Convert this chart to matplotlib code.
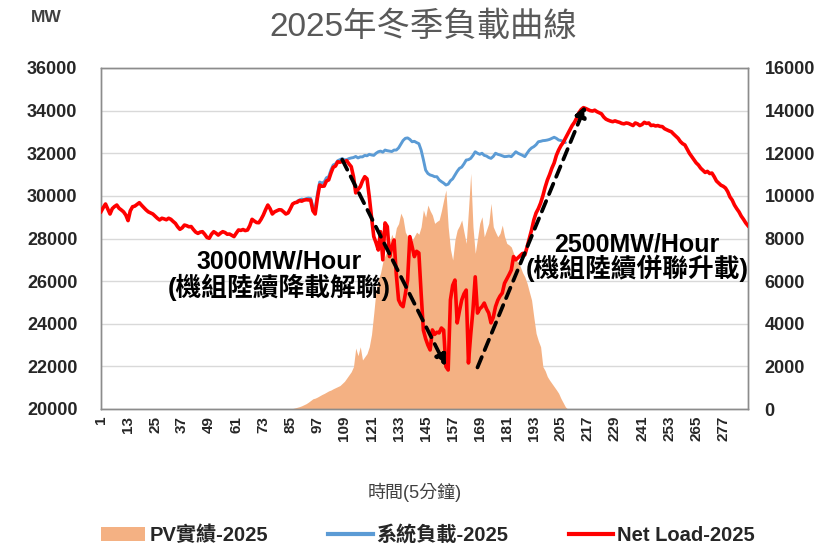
import matplotlib
matplotlib.use("Agg")
import matplotlib.pyplot as plt
import numpy as np
from matplotlib.patches import Patch
from matplotlib.lines import Line2D

plt.rcParams['font.family'] = ['Liberation Sans', 'Noto Sans CJK TC', 'DejaVu Sans']

# ---------------- data ----------------
x_idx = list(range(1, 289))
xtick_vals = list(range(1, 278, 12))

net_load = [
    29260, 29450, 29620, 29380, 29150, 29400, 29500, 29570, 29420, 29340, 29250, 29100,
    28840, 29300, 29490, 29520, 29600, 29680, 29560, 29450, 29340, 29250, 29200, 29150,
    29050, 28950, 28870, 28950, 28920, 28880, 28950, 28900, 28800, 28710, 28550, 28430,
    28500, 28630, 28600, 28550, 28560, 28420, 28300, 28240, 28300, 28320, 28200, 28050,
    28010, 28200, 28320, 28250, 28160, 28250, 28320, 28280, 28200, 28210, 28150, 28090,
    28250, 28400, 28380, 28420, 28370, 28400, 28600, 28900, 28820, 28750, 28740, 28900,
    29100, 29350, 29570, 29400, 29150, 29250, 29300, 29350, 29340, 29250, 29150, 29200,
    29400, 29620, 29680, 29700, 29780, 29750, 29800, 29820, 29810, 29800, 29300, 29150,
    29900, 30510, 30450, 30460, 30700, 30750, 31070, 31340, 31400, 31600, 31580, 31620,
    31600, 31650, 31500, 31370, 30900, 30140, 30300, 30430, 30700, 30900, 30800, 29960,
    29000, 28090, 27800, 27460, 28320, 27000, 28730, 28560, 27150, 27600, 27930, 26300,
    25120, 24900, 24800, 25400, 26050, 28090, 27620, 27150, 27400, 27320, 25440, 23700,
    23300, 23000, 22770, 23710, 23500, 23600, 23570, 23800, 23700, 21990, 21830, 25120,
    25800, 26050, 24040, 24600, 25110, 25400, 25580, 22160, 23500, 24650, 26200, 24500,
    24700, 24800, 24970, 24700, 24500, 24040, 24300, 24800, 25100, 25300, 25440, 25900,
    26100, 26300, 26520, 27150, 27000, 27100, 27200, 27300, 27230, 27600, 28000, 28400,
    28870, 29200, 29400, 29660, 30000, 30400, 30740, 31000, 31300, 31540, 31900, 32150,
    32350, 32500, 32700, 32900, 33100, 33300, 33450, 33650, 33900, 34050, 34140, 34100,
    34050, 34000, 33980, 34020, 33950, 33900, 33850, 33700, 33600, 33550, 33510, 33480,
    33520, 33480, 33450, 33400, 33380, 33420, 33400, 33350, 33300, 33420, 33380, 33300,
    33350, 33450, 33400, 33420, 33300, 33320, 33280, 33300, 33260, 33250, 33150, 33100,
    33050, 33010, 32900, 32800, 32700, 32550, 32450, 32390, 32200, 32000, 31850, 31700,
    31550, 31450, 31300, 31200, 31100, 31150, 31050, 31070, 30900, 30700, 30600, 30500,
    30450, 30370, 30200, 29950, 29800, 29570, 29400, 29250, 29050, 28900, 28730, 28600,
]

# system load visible only during daylight (elsewhere hidden under net load)
sys_start = 88
sys_load = [
    29750, 29800, 29850, 29830, 29870, 29900, 29880, 29500, 29400, 30100, 30650, 30600,
    30650, 30850, 30900, 31220, 31450, 31500, 31650, 31700, 31750, 31690, 31700, 31750, 31780,
    31800, 31850, 31780, 31830, 31830, 31900, 31880, 31950, 31920, 31900, 32000, 32070,
    32100, 32050, 32150, 32120, 32100, 32080, 32150, 32150, 32250, 32430, 32600, 32700,
    32720, 32650, 32540, 32560, 32500, 32450, 32150, 31700, 31210, 31050, 30980, 30950,
    30900, 30900, 30750, 30670, 30600, 30510, 30550, 30710, 30800, 30980, 31150, 31290,
    31350, 31500, 31680, 31700, 31760, 31900, 32070, 32000, 31950, 32000, 31900, 31870,
    31800, 31760, 31850, 32000, 31950, 31920, 31880, 31840, 31850, 31870, 31840, 31950,
    32070, 32000, 31950, 31900, 31840, 32000, 32150, 32250, 32310, 32400, 32540, 32560,
    32590, 32600, 32620, 32650, 32700, 32750, 32700, 32620, 32600, 32550, 32500,
]

pv_start = 86
pv = [
    20, 50, 80, 110, 150, 200, 250, 320, 400, 480, 510, 560,
    620, 680, 730, 790, 850, 890, 950, 1000, 1050, 1100, 1200, 1300,
    1450, 1600, 1750, 1990, 2860, 2500, 2920, 2300, 2450, 2600, 2920, 3500,
    4500, 5580, 6050, 6380, 6900, 7200, 7460, 7800, 8200, 7900, 8500, 8700,
    9190, 8950, 8300, 8090, 7790, 7900, 8100, 8300, 8200, 8550, 9340, 9000,
    9570, 9300, 9100, 8710, 8800, 8870, 9300, 9810, 10280, 8550, 7500, 6990,
    7930, 8400, 8600, 8870, 8300, 7770, 9340, 11060, 8550, 7300, 8000, 8710,
    9020, 8080, 8400, 8710, 9650, 8550, 8300, 8080, 8240, 8630, 8100, 7770,
    7700, 7600, 7300, 7000, 6900, 6680, 6400, 6200, 5900, 5500, 5110, 4300,
    3550, 3200, 2920, 1990, 1800, 1520, 1350, 1200, 1050, 900, 740, 500,
    300, 100,
]

left_ticks = [20000, 22000, 24000, 26000, 28000, 30000, 32000, 34000, 36000]
right_ticks = [0, 2000, 4000, 6000, 8000, 10000, 12000, 14000, 16000]

# ramp annotations (index, MW)
ramp_down = ((108, 31700), (154, 22000))
ramp_up = ((168, 21950), (216, 34250))

# ---------------- build full series ----------------
pv_full = np.zeros(288)
pv_full[pv_start - 1:pv_start - 1 + len(pv)] = pv
sys_full = np.full(288, np.nan)
sys_full[sys_start - 1:sys_start - 1 + len(sys_load)] = sys_load

C_PV = '#F4B183'
C_SYS = '#5B9BD5'
C_NET = '#FF0000'
TXT = '#262626'

fig = plt.figure(figsize=(8.31, 5.46), dpi=100)
ax1 = fig.add_axes([101 / 831, 1 - 409 / 546, 647 / 831, 341 / 546])
ax2 = ax1.twinx()
ax1.set_zorder(ax2.get_zorder() + 1)
ax1.patch.set_visible(False)

# PV area on right axis (behind)
ax2.fill_between(x_idx, 0, pv_full, color=C_PV, linewidth=0, zorder=2)
ax2.set_ylim(0, 16000)
ax2.set_yticks(right_ticks)
ax2.set_yticklabels([str(v) for v in right_ticks])
ax2.grid(True, color='#d9d9d9', linewidth=1, zorder=0)
ax2.set_axisbelow(True)

# lines on left axis
ax1.plot(x_idx, sys_full, color=C_SYS, linewidth=2.1, zorder=3, solid_capstyle='round')
ax1.plot(x_idx, net_load, color=C_NET, linewidth=2.6, zorder=4, solid_joinstyle='round')
ax1.set_ylim(20000, 36000)
ax1.set_yticks(left_ticks)
ax1.set_yticklabels([str(v) for v in left_ticks])
ax1.set_xlim(1, 288)
ax1.set_xticks(xtick_vals)
ax1.set_xticklabels([str(v) for v in xtick_vals], rotation=90)
ax2.set_xticks(xtick_vals)

for ax in (ax1, ax2):
    for s in ax.spines.values():
        s.set_color('#8c8c8c')
        s.set_linewidth(1)
    ax.tick_params(length=0)

ax1.tick_params(axis='y', labelsize=13, labelcolor=TXT, pad=17)
ax2.tick_params(axis='y', labelsize=13, labelcolor=TXT, pad=12)
ax1.tick_params(axis='x', labelsize=11, labelcolor=TXT, pad=5)
for lab in ax1.get_yticklabels() + ax2.get_yticklabels() + ax1.get_xticklabels():
    lab.set_fontweight('bold')

# ramp arrows
for (p0, p1) in (ramp_down, ramp_up):
    ax1.annotate('', xy=p1, xytext=p0,
                 arrowprops=dict(arrowstyle='-|>', linestyle=(0, (3, 2)), lw=2.7,
                                 color='black', mutation_scale=16, shrinkA=0, shrinkB=0),
                 zorder=6)

ax1.text(80, 26900, '3000MW/Hour', ha='center', va='center', fontsize=18,
         fontweight='bold', color='black', zorder=7)
ax1.text(80, 25720, '(機組陸續降載解聯)', ha='center', va='center', fontsize=18.5,
         fontweight='bold', color='black', zorder=7)
ax1.text(238.5, 27740, '2500MW/Hour', ha='center', va='center', fontsize=18,
         fontweight='bold', color='black', zorder=7)
ax1.text(239, 26620, '(機組陸續併聯升載)', ha='center', va='center', fontsize=18.5,
         fontweight='bold', color='black', zorder=7)

# titles / labels
fig.text(423 / 831, 1 - 27 / 546, '2025年冬季負載曲線', ha='center', va='center',
         fontsize=24, color='#595959')
fig.text(46 / 831, 1 - 18 / 546, 'MW', ha='center', va='center', fontsize=12.5,
         fontweight='bold', color='#404040')
fig.text(415 / 831, 1 - 492 / 546, '時間(5分鐘)', ha='center', va='center',
         fontsize=13, color='#404040')

handles = [Patch(facecolor=C_PV, edgecolor='none'),
           Line2D([0], [0], color=C_SYS, lw=3),
           Line2D([0], [0], color=C_NET, lw=3)]
labels = ['PV實績-2025', '系統負載-2025', 'Net Load-2025']
leg = fig.legend(handles, labels, loc='center', bbox_to_anchor=(428 / 831, 1 - 535 / 546),
                 ncol=3, frameon=False, fontsize=14.5, handlelength=2.2, handletextpad=0.2,
                 columnspacing=3.0, borderpad=0)
for t in leg.get_texts():
    t.set_fontweight('bold')
    t.set_color(TXT)

fig.savefig('out.png', dpi=100)
